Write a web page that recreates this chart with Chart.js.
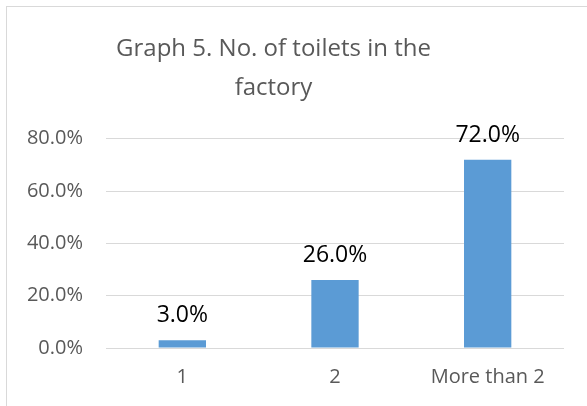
<!DOCTYPE html>
<html>
<head>
<meta charset="utf-8">
<title>Graph 5. No. of toilets in the factory</title>
<script src="https://cdn.jsdelivr.net/npm/chart.js@4/dist/chart.umd.min.js"></script>
<style>
  html, body { margin: 0; padding: 0; background: #ffffff; }
  #wrap { position: relative; width: 587px; height: 406px; overflow: hidden; }
  #frame { position: absolute; left: 6px; top: 6px; width: 620px; height: 440px;
           border: 1px solid #d9d9d9; box-sizing: border-box; }
  #c { position: absolute; left: 0; top: 0; }
</style>
</head>
<body>
<div id="wrap">
  <div id="frame"></div>
  <canvas id="c" width="587" height="406"></canvas>
</div>
<script>
// Share of factories by number of toilets (%)
const categories = ['1', '2', 'More than 2'];
const shares = [3.0, 26.0, 72.0];
const yTicks = [0, 20, 40, 60, 80];

const FONT = '"Open Sans", "Noto Sans", sans-serif';

// Writes each bar's value above it
const valueLabels = {
  id: 'valueLabels',
  afterDatasetsDraw(chart) {
    const ctx = chart.ctx;
    const meta = chart.getDatasetMeta(0);
    ctx.save();
    ctx.font = '23px ' + FONT;
    ctx.fillStyle = '#000000';
    ctx.textAlign = 'center';
    ctx.textBaseline = 'alphabetic';
    meta.data.forEach((bar, i) => {
      const v = chart.data.datasets[0].data[i];
      ctx.fillText(v.toFixed(1) + '%', bar.x, bar.y - 18);
    });
    ctx.restore();
  }
};

// Centres the title over the chart frame rather than the whole canvas
const titleSpan = {
  id: 'titleSpan',
  afterLayout(chart) {
    const t = chart.titleBlock;
    if (t) { t.right = t.left + 547; }
  }
};

new Chart(document.getElementById('c'), {
  type: 'bar',
  data: {
    labels: categories,
    datasets: [{
      data: shares,
      backgroundColor: '#5b9bd5',
      borderWidth: 0,
      categoryPercentage: 1.0,
      barPercentage: 0.31
    }]
  },
  options: {
    responsive: false,
    devicePixelRatio: 1,
    animation: false,
    layout: { padding: { left: 0, right: 23, top: 0, bottom: 0 } },
    plugins: {
      legend: { display: false },
      tooltip: { enabled: false },
      title: {
        display: true,
        text: ['Graph 5. No. of toilets in the', 'factory'],
        color: '#595959',
        font: { family: FONT, size: 24, weight: 'normal', lineHeight: 1.62 },
        padding: { top: 30, bottom: 31 }
      }
    },
    scales: {
      x: {
        grid: { display: false, drawTicks: false },
        border: { display: false },
        ticks: { color: '#595959', font: { family: FONT, size: 20 }, padding: 17 },
        afterFit(scale) { scale.height = 58; }
      },
      y: {
        min: 0,
        max: 80,
        afterBuildTicks(scale) { scale.ticks = yTicks.map(v => ({ value: v })); },
        grid: { color: '#d9d9d9', lineWidth: 1, drawTicks: false },
        border: { display: false },
        ticks: {
          color: '#595959',
          font: { family: FONT, size: 20 },
          padding: 23,
          callback: v => Number(v).toFixed(1) + '%'
        },
        afterFit(scale) { scale.width = 106; }
      }
    }
  },
  plugins: [valueLabels, titleSpan]
});
</script>
</body>
</html>
